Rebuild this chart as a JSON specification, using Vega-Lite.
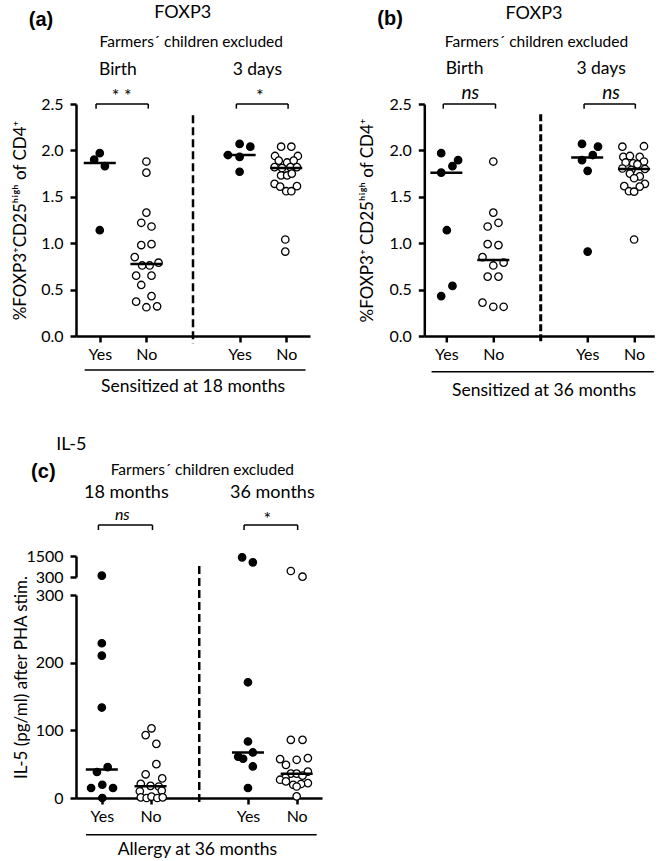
{
"$schema": "https://vega.github.io/schema/vega-lite/v6.json",
"background": "white",
"padding": {"left": 10, "top": 4, "right": 0, "bottom": 0},
"config": {
 "view": {"stroke": null},
 "font": "Lato",
 "axis": {"grid": false, "domainColor": "#000", "domainWidth": 2.5, "tickColor": "#000", "tickWidth": 2.5, "tickSize": 6, "labelColor": "#000", "labelFontSize": 16, "labelFont": "Lato", "titleColor": "#000", "titleFont": "Lato", "titleFontWeight": "normal", "titleFontSize": 17, "labelOverlap": false, "labelFlush": false},
 "text": {"color": "#000", "font": "Lato"}
},
"datasets": {
 "a": [
  {"time":"Birth","group":"Yes","value":1.97,"dx":0},
  {"time":"Birth","group":"Yes","value":1.90,"dx":-0.12},
  {"time":"Birth","group":"Yes","value":1.83,"dx":0.11},
  {"time":"Birth","group":"Yes","value":1.14,"dx":0},
  {"time":"Birth","group":"No","value":1.88,"dx":0},
  {"time":"Birth","group":"No","value":1.76,"dx":0},
  {"time":"Birth","group":"No","value":1.33,"dx":0},
  {"time":"Birth","group":"No","value":1.22,"dx":-0.11},
  {"time":"Birth","group":"No","value":1.18,"dx":0.11},
  {"time":"Birth","group":"No","value":0.98,"dx":-0.11},
  {"time":"Birth","group":"No","value":0.99,"dx":0.11},
  {"time":"Birth","group":"No","value":0.85,"dx":-0.25},
  {"time":"Birth","group":"No","value":0.76,"dx":-0.09},
  {"time":"Birth","group":"No","value":0.76,"dx":0.07},
  {"time":"Birth","group":"No","value":0.79,"dx":0.26},
  {"time":"Birth","group":"No","value":0.65,"dx":-0.22},
  {"time":"Birth","group":"No","value":0.65,"dx":0.11},
  {"time":"Birth","group":"No","value":0.55,"dx":-0.11},
  {"time":"Birth","group":"No","value":0.43,"dx":0.11},
  {"time":"Birth","group":"No","value":0.37,"dx":-0.22},
  {"time":"Birth","group":"No","value":0.31,"dx":0},
  {"time":"Birth","group":"No","value":0.32,"dx":0.23},
  {"time":"3 days","group":"Yes","value":2.07,"dx":0},
  {"time":"3 days","group":"Yes","value":2.04,"dx":0.23},
  {"time":"3 days","group":"Yes","value":1.95,"dx":-0.25},
  {"time":"3 days","group":"Yes","value":1.93,"dx":0},
  {"time":"3 days","group":"Yes","value":1.77,"dx":0},
  {"time":"3 days","group":"No","value":2.04,"dx":-0.11},
  {"time":"3 days","group":"No","value":2.04,"dx":0.11},
  {"time":"3 days","group":"No","value":1.94,"dx":-0.24},
  {"time":"3 days","group":"No","value":1.94,"dx":0.25},
  {"time":"3 days","group":"No","value":1.89,"dx":-0.16},
  {"time":"3 days","group":"No","value":1.87,"dx":0.02},
  {"time":"3 days","group":"No","value":1.89,"dx":0.16},
  {"time":"3 days","group":"No","value":1.82,"dx":-0.25},
  {"time":"3 days","group":"No","value":1.81,"dx":-0.09},
  {"time":"3 days","group":"No","value":1.82,"dx":0.09},
  {"time":"3 days","group":"No","value":1.82,"dx":0.23},
  {"time":"3 days","group":"No","value":1.73,"dx":-0.11},
  {"time":"3 days","group":"No","value":1.73,"dx":0.02},
  {"time":"3 days","group":"No","value":1.75,"dx":0.12},
  {"time":"3 days","group":"No","value":1.64,"dx":-0.25},
  {"time":"3 days","group":"No","value":1.61,"dx":-0.13},
  {"time":"3 days","group":"No","value":1.56,"dx":0},
  {"time":"3 days","group":"No","value":1.56,"dx":0.11},
  {"time":"3 days","group":"No","value":1.615,"dx":0.23},
  {"time":"3 days","group":"No","value":1.04,"dx":-0.02},
  {"time":"3 days","group":"No","value":0.91,"dx":-0.02}
 ],
 "b": [
  {"time":"Birth","group":"Yes","value":1.97,"dx":-0.11},
  {"time":"Birth","group":"Yes","value":1.895,"dx":0.25},
  {"time":"Birth","group":"Yes","value":1.83,"dx":0.13},
  {"time":"Birth","group":"Yes","value":1.76,"dx":-0.11},
  {"time":"Birth","group":"Yes","value":1.14,"dx":0.01},
  {"time":"Birth","group":"Yes","value":0.54,"dx":0.13},
  {"time":"Birth","group":"Yes","value":0.43,"dx":-0.11},
  {"time":"Birth","group":"No","value":1.88,"dx":0},
  {"time":"Birth","group":"No","value":1.33,"dx":0},
  {"time":"Birth","group":"No","value":1.22,"dx":0.11},
  {"time":"Birth","group":"No","value":1.18,"dx":-0.12},
  {"time":"Birth","group":"No","value":0.99,"dx":-0.12},
  {"time":"Birth","group":"No","value":0.98,"dx":0.11},
  {"time":"Birth","group":"No","value":0.85,"dx":-0.23},
  {"time":"Birth","group":"No","value":0.76,"dx":0},
  {"time":"Birth","group":"No","value":0.79,"dx":0.22},
  {"time":"Birth","group":"No","value":0.64,"dx":-0.12},
  {"time":"Birth","group":"No","value":0.64,"dx":0.11},
  {"time":"Birth","group":"No","value":0.36,"dx":-0.23},
  {"time":"Birth","group":"No","value":0.315,"dx":0},
  {"time":"Birth","group":"No","value":0.315,"dx":0.22},
  {"time":"3 days","group":"Yes","value":2.07,"dx":-0.11},
  {"time":"3 days","group":"Yes","value":2.04,"dx":0.23},
  {"time":"3 days","group":"Yes","value":1.95,"dx":0.12},
  {"time":"3 days","group":"Yes","value":1.895,"dx":-0.11},
  {"time":"3 days","group":"Yes","value":1.78,"dx":0.01},
  {"time":"3 days","group":"Yes","value":0.91,"dx":0.01},
  {"time":"3 days","group":"No","value":2.04,"dx":-0.25},
  {"time":"3 days","group":"No","value":2.045,"dx":0.21},
  {"time":"3 days","group":"No","value":1.93,"dx":-0.23},
  {"time":"3 days","group":"No","value":1.94,"dx":-0.09},
  {"time":"3 days","group":"No","value":1.93,"dx":0.12},
  {"time":"3 days","group":"No","value":1.88,"dx":0.21},
  {"time":"3 days","group":"No","value":1.87,"dx":-0.18},
  {"time":"3 days","group":"No","value":1.86,"dx":-0.02},
  {"time":"3 days","group":"No","value":1.85,"dx":0.07},
  {"time":"3 days","group":"No","value":1.805,"dx":-0.25},
  {"time":"3 days","group":"No","value":1.80,"dx":0.23},
  {"time":"3 days","group":"No","value":1.79,"dx":-0.06},
  {"time":"3 days","group":"No","value":1.75,"dx":-0.09},
  {"time":"3 days","group":"No","value":1.72,"dx":0.12},
  {"time":"3 days","group":"No","value":1.70,"dx":0},
  {"time":"3 days","group":"No","value":1.64,"dx":0.23},
  {"time":"3 days","group":"No","value":1.615,"dx":-0.21},
  {"time":"3 days","group":"No","value":1.61,"dx":0.12},
  {"time":"3 days","group":"No","value":1.56,"dx":-0.11},
  {"time":"3 days","group":"No","value":1.555,"dx":0},
  {"time":"3 days","group":"No","value":1.04,"dx":0}
 ],
 "c": [
  {"time":"18 months","group":"Yes","value":374,"dx":0},
  {"time":"18 months","group":"Yes","value":228.7,"dx":0},
  {"time":"18 months","group":"Yes","value":210.4,"dx":0},
  {"time":"18 months","group":"Yes","value":133.7,"dx":0},
  {"time":"18 months","group":"Yes","value":45.7,"dx":0.12},
  {"time":"18 months","group":"Yes","value":38.4,"dx":-0.1},
  {"time":"18 months","group":"Yes","value":14.8,"dx":-0.22},
  {"time":"18 months","group":"Yes","value":19.6,"dx":0.01},
  {"time":"18 months","group":"Yes","value":14.8,"dx":0.23},
  {"time":"18 months","group":"Yes","value":0,"dx":0.01},
  {"time":"18 months","group":"No","value":103,"dx":0.02},
  {"time":"18 months","group":"No","value":93,"dx":-0.1},
  {"time":"18 months","group":"No","value":80,"dx":0.12},
  {"time":"18 months","group":"No","value":50,"dx":0.12},
  {"time":"18 months","group":"No","value":35,"dx":-0.1},
  {"time":"18 months","group":"No","value":29,"dx":0.24},
  {"time":"18 months","group":"No","value":21,"dx":-0.2},
  {"time":"18 months","group":"No","value":18,"dx":0},
  {"time":"18 months","group":"No","value":17,"dx":0.17},
  {"time":"18 months","group":"No","value":10,"dx":-0.22},
  {"time":"18 months","group":"No","value":11,"dx":0.23},
  {"time":"18 months","group":"No","value":1,"dx":-0.2},
  {"time":"18 months","group":"No","value":0,"dx":-0.08},
  {"time":"18 months","group":"No","value":2,"dx":0.02},
  {"time":"18 months","group":"No","value":0,"dx":0.14},
  {"time":"18 months","group":"No","value":1,"dx":0.25},
  {"time":"36 months","group":"Yes","value":1425,"dx":-0.12},
  {"time":"36 months","group":"Yes","value":1140,"dx":0.1},
  {"time":"36 months","group":"Yes","value":171,"dx":0},
  {"time":"36 months","group":"Yes","value":83.5,"dx":0},
  {"time":"36 months","group":"Yes","value":67.3,"dx":0.1},
  {"time":"36 months","group":"Yes","value":61,"dx":-0.2},
  {"time":"36 months","group":"Yes","value":58,"dx":-0.1},
  {"time":"36 months","group":"Yes","value":46.6,"dx":0.1},
  {"time":"36 months","group":"Yes","value":14.8,"dx":0},
  {"time":"36 months","group":"No","value":643,"dx":-0.12},
  {"time":"36 months","group":"No","value":317,"dx":0.12},
  {"time":"36 months","group":"No","value":86,"dx":-0.12},
  {"time":"36 months","group":"No","value":86,"dx":0.12},
  {"time":"36 months","group":"No","value":57.5,"dx":-0.34},
  {"time":"36 months","group":"No","value":56.5,"dx":0},
  {"time":"36 months","group":"No","value":59,"dx":0.23},
  {"time":"36 months","group":"No","value":49,"dx":-0.22},
  {"time":"36 months","group":"No","value":39,"dx":0.23},
  {"time":"36 months","group":"No","value":36,"dx":-0.12},
  {"time":"36 months","group":"No","value":36,"dx":0},
  {"time":"36 months","group":"No","value":33,"dx":0.12},
  {"time":"36 months","group":"No","value":30,"dx":-0.23},
  {"time":"36 months","group":"No","value":27,"dx":-0.34},
  {"time":"36 months","group":"No","value":24.5,"dx":-0.22},
  {"time":"36 months","group":"No","value":22,"dx":0.23},
  {"time":"36 months","group":"No","value":20.7,"dx":0.09},
  {"time":"36 months","group":"No","value":19.6,"dx":-0.07},
  {"time":"36 months","group":"No","value":17,"dx":0},
  {"time":"36 months","group":"No","value":2.4,"dx":0}
 ]
},
"vconcat": [
 {
  "hconcat": [
   {
    "width": 234, "height": 232,
    "data": {"values": [{}]},
    "layer": [
     {
      "data": {"name": "a"},
      "transform": [
       {"calculate": "(datum.time == 'Birth' ? 0 : 3) + (datum.group == 'Yes' ? 1 : 2)", "as": "slot"},
       {"calculate": "datum.slot + datum.dx", "as": "xpos"}
      ],
      "mark": {"type": "point", "shape": "circle", "filled": true, "size": 55, "stroke": "#000", "strokeWidth": 1.3, "opacity": 1},
      "encoding": {
       "x": {"field": "xpos", "type": "quantitative", "scale": {"domain": [0.49, 5.51], "nice": false, "zero": false}, "axis": {"values": [1, 2, 4, 5], "labelExpr": "datum.value == 1 || datum.value == 4 ? 'Yes' : 'No'", "title": null, "labelPadding": 4}},
       "y": {"field": "value", "type": "quantitative", "scale": {"domain": [0, 2.5], "nice": false, "zero": false}, "axis": {"values": [0, 0.5, 1, 1.5, 2, 2.5], "format": ".1f", "title": "%FOXP3⁺CD25ʰⁱᵍʰ of CD4⁺", "titleX": -56, "titleBaseline": "middle", "titleAngle": -90, "labelPadding": 7}},
       "fill": {"field": "group", "type": "nominal", "scale": {"domain": ["Yes", "No"], "range": ["#000000", "#ffffff"]}, "legend": null}
      }
     },
     {
      "data": {"name": "a"},
      "transform": [{"calculate": "(datum.time == 'Birth' ? 0 : 3) + (datum.group == 'Yes' ? 1 : 2)", "as": "slot"}],
      "mark": {"type": "tick", "orient": "horizontal", "size": 32, "thickness": 2.5, "color": "#000", "opacity": 1},
      "encoding": {"x": {"field": "slot", "type": "quantitative"}, "y": {"aggregate": "median", "field": "value", "type": "quantitative"}}
     },
     {"mark": {"type": "rule", "strokeDash": [8, 4], "strokeWidth": 2.5, "color": "#000"}, "encoding": {"x": {"datum": 3}, "y": {"datum": 2.38}, "y2": {"datum": -0.08}}},
     {"mark": {"type": "rule", "strokeWidth": 1.5, "color": "#000"}, "encoding": {"x": {"datum": 0.92}, "x2": {"datum": 2.04}, "y": {"datum": 2.5}}},
     {"mark": {"type": "rule", "strokeWidth": 1.5, "color": "#000"}, "encoding": {"x": {"datum": 0.92}, "y": {"datum": 2.5}, "y2": {"datum": 2.45}}},
     {"mark": {"type": "rule", "strokeWidth": 1.5, "color": "#000"}, "encoding": {"x": {"datum": 2.04}, "y": {"datum": 2.5}, "y2": {"datum": 2.45}}},
     {"mark": {"type": "rule", "strokeWidth": 1.5, "color": "#000"}, "encoding": {"x": {"datum": 3.93}, "x2": {"datum": 5.04}, "y": {"datum": 2.5}}},
     {"mark": {"type": "rule", "strokeWidth": 1.5, "color": "#000"}, "encoding": {"x": {"datum": 3.93}, "y": {"datum": 2.5}, "y2": {"datum": 2.45}}},
     {"mark": {"type": "rule", "strokeWidth": 1.5, "color": "#000"}, "encoding": {"x": {"datum": 5.04}, "y": {"datum": 2.5}, "y2": {"datum": 2.45}}},
     {"mark": {"type": "rule", "strokeWidth": 1.5, "color": "#000"}, "encoding": {"x": {"datum": 0.676}, "x2": {"datum": 5.415}, "y": {"datum": -0.366}}},
     {"mark": {"type": "text", "fontSize": 20, "fontWeight": "bold", "font": "Liberation Sans"}, "encoding": {"x": {"datum": -0.26}, "y": {"datum": 3.40}, "text": {"value": "(a)"}}},
     {"mark": {"type": "text", "fontSize": 18}, "encoding": {"x": {"datum": 2.78}, "y": {"datum": 3.477}, "text": {"value": "FOXP3"}}},
     {"mark": {"type": "text", "fontSize": 15.5}, "encoding": {"x": {"datum": 2.963}, "y": {"datum": 3.165}, "text": {"value": "Farmers´ children excluded"}}},
     {"mark": {"type": "text", "fontSize": 17.5}, "encoding": {"x": {"datum": 1.389}, "y": {"datum": 2.863}, "text": {"value": "Birth"}}},
     {"mark": {"type": "text", "fontSize": 17.5}, "encoding": {"x": {"datum": 4.38}, "y": {"datum": 2.863}, "text": {"value": "3 days"}}},
     {"mark": {"type": "text", "fontSize": 18}, "encoding": {"x": {"datum": 1.469}, "y": {"datum": 2.58}, "text": {"value": "* *"}}},
     {"mark": {"type": "text", "fontSize": 18}, "encoding": {"x": {"datum": 4.436}, "y": {"datum": 2.58}, "text": {"value": "*"}}},
     {"mark": {"type": "text", "fontSize": 17.5}, "encoding": {"x": {"datum": 3.0}, "y": {"datum": -0.549}, "text": {"value": "Sensitized at 18 months"}}}
    ]
   },
   {
    "width": 230, "height": 232,
    "data": {"values": [{}]},
    "layer": [
     {
      "data": {"name": "b"},
      "transform": [
       {"calculate": "(datum.time == 'Birth' ? 0 : 3) + (datum.group == 'Yes' ? 1 : 2)", "as": "slot"},
       {"calculate": "datum.slot + datum.dx", "as": "xpos"}
      ],
      "mark": {"type": "point", "shape": "circle", "filled": true, "size": 55, "stroke": "#000", "strokeWidth": 1.3, "opacity": 1},
      "encoding": {
       "x": {"field": "xpos", "type": "quantitative", "scale": {"domain": [0.53, 5.43], "nice": false, "zero": false}, "axis": {"values": [1, 2, 4, 5], "labelExpr": "datum.value == 1 || datum.value == 4 ? 'Yes' : 'No'", "title": null, "labelPadding": 4}},
       "y": {"field": "value", "type": "quantitative", "scale": {"domain": [0, 2.5], "nice": false, "zero": false}, "axis": {"values": [0, 0.5, 1, 1.5, 2, 2.5], "format": ".1f", "title": "%FOXP3⁺ CD25ʰⁱᵍʰ of CD4⁺", "titleX": -57, "titleBaseline": "middle", "titleAngle": -90, "labelPadding": 7}},
       "fill": {"field": "group", "type": "nominal", "scale": {"domain": ["Yes", "No"], "range": ["#000000", "#ffffff"]}, "legend": null}
      }
     },
     {
      "data": {"name": "b"},
      "transform": [{"calculate": "(datum.time == 'Birth' ? 0 : 3) + (datum.group == 'Yes' ? 1 : 2)", "as": "slot"}],
      "mark": {"type": "tick", "orient": "horizontal", "size": 32, "thickness": 2.5, "color": "#000", "opacity": 1},
      "encoding": {"x": {"field": "slot", "type": "quantitative"}, "y": {"aggregate": "median", "field": "value", "type": "quantitative"}}
     },
     {"mark": {"type": "rule", "strokeDash": [7, 3], "strokeWidth": 3, "color": "#000"}, "encoding": {"x": {"datum": 3.01}, "y": {"datum": 2.39}, "y2": {"datum": -0.08}}},
     {"mark": {"type": "rule", "strokeWidth": 1.5, "color": "#000"}, "encoding": {"x": {"datum": 0.934}, "x2": {"datum": 2.047}, "y": {"datum": 2.5}}},
     {"mark": {"type": "rule", "strokeWidth": 1.5, "color": "#000"}, "encoding": {"x": {"datum": 0.934}, "y": {"datum": 2.5}, "y2": {"datum": 2.45}}},
     {"mark": {"type": "rule", "strokeWidth": 1.5, "color": "#000"}, "encoding": {"x": {"datum": 2.047}, "y": {"datum": 2.5}, "y2": {"datum": 2.45}}},
     {"mark": {"type": "rule", "strokeWidth": 1.5, "color": "#000"}, "encoding": {"x": {"datum": 3.934}, "x2": {"datum": 5.026}, "y": {"datum": 2.5}}},
     {"mark": {"type": "rule", "strokeWidth": 1.5, "color": "#000"}, "encoding": {"x": {"datum": 3.934}, "y": {"datum": 2.5}, "y2": {"datum": 2.45}}},
     {"mark": {"type": "rule", "strokeWidth": 1.5, "color": "#000"}, "encoding": {"x": {"datum": 5.026}, "y": {"datum": 2.5}, "y2": {"datum": 2.45}}},
     {"mark": {"type": "rule", "strokeWidth": 1.5, "color": "#000"}, "encoding": {"x": {"datum": 0.685}, "x2": {"datum": 5.42}, "y": {"datum": -0.385}}},
     {"mark": {"type": "text", "fontSize": 20, "fontWeight": "bold", "font": "Liberation Sans"}, "encoding": {"x": {"datum": -0.198}, "y": {"datum": 3.42}, "text": {"value": "(b)"}}},
     {"mark": {"type": "text", "fontSize": 18}, "encoding": {"x": {"datum": 2.866}, "y": {"datum": 3.466}, "text": {"value": "FOXP3"}}},
     {"mark": {"type": "text", "fontSize": 15.5}, "encoding": {"x": {"datum": 2.919}, "y": {"datum": 3.165}, "text": {"value": "Farmers´ children excluded"}}},
     {"mark": {"type": "text", "fontSize": 17.5}, "encoding": {"x": {"datum": 1.387}, "y": {"datum": 2.874}, "text": {"value": "Birth"}}},
     {"mark": {"type": "text", "fontSize": 17.5}, "encoding": {"x": {"datum": 4.296}, "y": {"datum": 2.874}, "text": {"value": "3 days"}}},
     {"mark": {"type": "text", "fontSize": 19, "fontStyle": "italic"}, "encoding": {"x": {"datum": 1.511}, "y": {"datum": 2.62}, "text": {"value": "ns"}}},
     {"mark": {"type": "text", "fontSize": 19, "fontStyle": "italic"}, "encoding": {"x": {"datum": 4.509}, "y": {"datum": 2.62}, "text": {"value": "ns"}}},
     {"mark": {"type": "text", "fontSize": 17.5}, "encoding": {"x": {"datum": 3.08}, "y": {"datum": -0.592}, "text": {"value": "Sensitized at 36 months"}}}
    ]
   }
  ],
  "spacing": 114.3,
  "bounds": "flush"
 },
 {
  "vconcat": [
   {
    "width": 246, "height": 21,
    "data": {"name": "c"},
    "transform": [
     {"filter": "datum.value > 300"},
     {"calculate": "(datum.time == '18 months' ? 0 : 3) + (datum.group == 'Yes' ? 1 : 2)", "as": "slot"},
     {"calculate": "datum.slot + datum.dx", "as": "xpos"}
    ],
    "mark": {"type": "point", "shape": "circle", "filled": true, "size": 55, "stroke": "#000", "strokeWidth": 1.3, "opacity": 1},
    "encoding": {
     "x": {"field": "xpos", "type": "quantitative", "scale": {"domain": [0.47, 5.52], "nice": false, "zero": false}, "axis": null},
     "y": {"field": "value", "type": "quantitative", "scale": {"domain": [300, 1500], "nice": false, "zero": false}, "axis": {"values": [300, 1500], "format": "d", "title": null, "labelPadding": 7}},
     "fill": {"field": "group", "type": "nominal", "scale": {"domain": ["Yes", "No"], "range": ["#000000", "#ffffff"]}, "legend": null}
    }
   },
   {
    "width": 246, "height": 203,
    "data": {"values": [{}]},
    "layer": [
     {
      "data": {"name": "c"},
      "transform": [
       {"filter": "datum.value <= 300"},
       {"calculate": "(datum.time == '18 months' ? 0 : 3) + (datum.group == 'Yes' ? 1 : 2)", "as": "slot"},
       {"calculate": "datum.slot + datum.dx", "as": "xpos"}
      ],
      "mark": {"type": "point", "shape": "circle", "filled": true, "size": 55, "stroke": "#000", "strokeWidth": 1.3, "opacity": 1},
      "encoding": {
       "x": {"field": "xpos", "type": "quantitative", "scale": {"domain": [0.47, 5.52], "nice": false, "zero": false}, "axis": {"values": [1, 2, 4, 5], "labelExpr": "datum.value == 1 || datum.value == 4 ? 'Yes' : 'No'", "title": null, "labelPadding": 4}},
       "y": {"field": "value", "type": "quantitative", "scale": {"domain": [0, 300], "nice": false, "zero": false}, "axis": {"values": [0, 100, 200, 300], "format": "d", "title": "IL-5 (pg/ml) after PHA stim.", "titleX": -55, "titleY": 82, "titleBaseline": "middle", "titleAngle": -90, "labelPadding": 7}},
       "fill": {"field": "group", "type": "nominal", "scale": {"domain": ["Yes", "No"], "range": ["#000000", "#ffffff"]}, "legend": null}
      }
     },
     {
      "data": {"name": "c"},
      "transform": [{"calculate": "(datum.time == '18 months' ? 0 : 3) + (datum.group == 'Yes' ? 1 : 2)", "as": "slot"}],
      "mark": {"type": "tick", "orient": "horizontal", "size": 32, "thickness": 2.5, "color": "#000", "opacity": 1},
      "encoding": {"x": {"field": "slot", "type": "quantitative"}, "y": {"aggregate": "median", "field": "value", "type": "quantitative"}}
     },
     {"mark": {"type": "rule", "strokeDash": [8, 4], "strokeWidth": 2.5, "color": "#000"}, "encoding": {"x": {"datum": 3.0}, "y": {"datum": 342.8}, "y2": {"datum": -6.9}}},
     {"mark": {"type": "rule", "strokeWidth": 1.5, "color": "#000"}, "encoding": {"x": {"datum": 0.93}, "x2": {"datum": 2.04}, "y": {"datum": 403.3}}},
     {"mark": {"type": "rule", "strokeWidth": 1.5, "color": "#000"}, "encoding": {"x": {"datum": 0.93}, "y": {"datum": 403.3}, "y2": {"datum": 396}}},
     {"mark": {"type": "rule", "strokeWidth": 1.5, "color": "#000"}, "encoding": {"x": {"datum": 2.04}, "y": {"datum": 403.3}, "y2": {"datum": 396}}},
     {"mark": {"type": "rule", "strokeWidth": 1.5, "color": "#000"}, "encoding": {"x": {"datum": 3.92}, "x2": {"datum": 5.02}, "y": {"datum": 403.3}}},
     {"mark": {"type": "rule", "strokeWidth": 1.5, "color": "#000"}, "encoding": {"x": {"datum": 3.92}, "y": {"datum": 403.3}, "y2": {"datum": 396}}},
     {"mark": {"type": "rule", "strokeWidth": 1.5, "color": "#000"}, "encoding": {"x": {"datum": 5.02}, "y": {"datum": 403.3}, "y2": {"datum": 396}}},
     {"mark": {"type": "rule", "strokeWidth": 1.5, "color": "#000"}, "encoding": {"x": {"datum": 0.675}, "x2": {"datum": 5.41}, "y": {"datum": -54.2}}},
     {"mark": {"type": "text", "fontSize": 20, "fontWeight": "bold", "font": "Liberation Sans"}, "encoding": {"x": {"datum": -0.201}, "y": {"datum": 481.7}, "text": {"value": "(c)"}}},
     {"mark": {"type": "text", "fontSize": 18}, "encoding": {"x": {"datum": 0.373}, "y": {"datum": 521}, "text": {"value": "IL-5"}}},
     {"mark": {"type": "text", "fontSize": 15.5}, "encoding": {"x": {"datum": 3.063}, "y": {"datum": 484.5}, "text": {"value": "Farmers´ children excluded"}}},
     {"mark": {"type": "text", "fontSize": 18}, "encoding": {"x": {"datum": 1.503}, "y": {"datum": 450.5}, "text": {"value": "18 months"}}},
     {"mark": {"type": "text", "fontSize": 18}, "encoding": {"x": {"datum": 4.501}, "y": {"datum": 450.5}, "text": {"value": "36 months"}}},
     {"mark": {"type": "text", "fontSize": 16, "fontStyle": "italic"}, "encoding": {"x": {"datum": 1.421}, "y": {"datum": 418.1}, "text": {"value": "ns"}}},
     {"mark": {"type": "text", "fontSize": 18}, "encoding": {"x": {"datum": 4.398}, "y": {"datum": 411}, "text": {"value": "*"}}},
     {"mark": {"type": "text", "fontSize": 17.5}, "encoding": {"x": {"datum": 2.961}, "y": {"datum": -77.3}, "text": {"value": "Allergy at 36 months"}}}
    ]
   }
  ],
  "spacing": 18,
  "bounds": "flush"
 }
],
"spacing": 452,
"bounds": "flush"
}
